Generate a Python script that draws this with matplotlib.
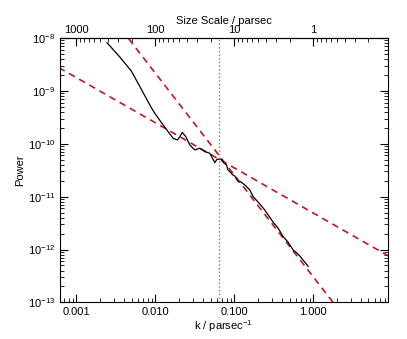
import numpy as np
import matplotlib
matplotlib.use("Agg")
import matplotlib.pyplot as plt
from matplotlib.ticker import LogLocator, FixedLocator, FixedFormatter, NullFormatter

plt.rcParams['font.family'] = ['Liberation Sans', 'DejaVu Sans']
plt.rcParams['font.size'] = 8
plt.rcParams['mathtext.fontset'] = 'custom'
plt.rcParams['mathtext.rm'] = 'Liberation Sans'

# power spectrum
k = [0.00244, 0.00354, 0.00498, 0.00667, 0.00893, 0.00983, 0.01253, 0.01676,
     0.01905, 0.0204, 0.0219, 0.0243, 0.0273, 0.0316, 0.0365, 0.0423, 0.0489,
     0.0566, 0.0605, 0.0689, 0.0736, 0.0796, 0.0828, 0.0877, 0.0958, 0.1014,
     0.1117, 0.121, 0.136, 0.157, 0.173, 0.210, 0.237, 0.268, 0.308, 0.359,
     0.415, 0.477, 0.556, 0.638, 0.711, 0.861]
power = [8.15e-9, 4.38e-9, 2.35e-9, 1.06e-9, 4.75e-10, 3.78e-10, 2.27e-10, 1.27e-10,
         1.18e-10, 1.35e-10, 1.64e-10, 1.36e-10, 9.5e-11, 7.63e-11, 8.22e-11, 7.1e-11, 6.6e-11,
         4.4e-11, 5.1e-11, 5.1e-11, 4.33e-11, 3.97e-11, 3.2e-11, 2.97e-11, 2.57e-11, 2.45e-11,
         1.92e-11, 1.9e-11, 1.66e-11, 1.34e-11, 1.0e-11, 7.28e-12, 5.85e-12, 4.51e-12, 3.33e-12, 2.53e-12,
         1.75e-12, 1.39e-12, 9.8e-13, 8.26e-13, 6.85e-13, 4.8e-13]

# power-law fits (end points)
fit_shallow_k = [0.0006, 9.0]
fit_shallow_p = [2.75e-9, 7.5e-13]
fit_steep_k = [0.002, 9.0]
fit_steep_p = [4.8e-8, 4.4e-15]

k_break = 0.064

xticks = [0.001, 0.01, 0.1, 1.0]
xticklabels = ["0.001", "0.010", "0.100", "1.000"]
top_ticks = [1000, 100, 10, 1]
top_labels = ["1000", "100", "10", "1"]

fig = plt.figure(figsize=(4.07, 3.39), dpi=100)
ax = fig.add_axes([0.1474, 0.108, 0.8056, 0.780])

ax.plot(fit_shallow_k, fit_shallow_p, color='#c0181c', ls=(0, (4, 3)), lw=1.2)
ax.plot(fit_steep_k, fit_steep_p, color='#c0181c', ls=(0, (4, 3)), lw=1.2)
ax.plot(k, power, color='black', lw=0.9)
ax.axvline(k_break, color='gray', ls=':', lw=1)

ax.set_xscale('log')
ax.set_yscale('log')
ax.set_xlim(0.00062, 8.8)
ax.set_ylim(1e-13, 1e-8)

ax.xaxis.set_major_locator(FixedLocator(xticks))
ax.xaxis.set_major_formatter(FixedFormatter(xticklabels))
ax.xaxis.set_minor_locator(LogLocator(base=10, subs=np.arange(2, 10)))
ax.xaxis.set_minor_formatter(NullFormatter())
ax.yaxis.set_major_locator(LogLocator(base=10, numticks=10))
ax.yaxis.set_minor_locator(LogLocator(base=10, subs=np.arange(2, 10), numticks=10))
ax.xaxis.get_offset_text().set_visible(False)

ax.tick_params(which='both', direction='in', right=True, top=False)
ax.tick_params(which='major', length=6, width=0.8)
ax.tick_params(which='minor', length=3, width=0.6)

ax.set_xlabel('k / parsec$^{-1}$', labelpad=1)
ax.set_ylabel('Power', labelpad=2)

top = ax.secondary_xaxis('top', functions=(lambda x: 1.0 / x, lambda x: 1.0 / x))
top.xaxis.set_major_locator(FixedLocator(top_ticks))
top.xaxis.set_major_formatter(FixedFormatter(top_labels))
top.xaxis.set_minor_locator(LogLocator(base=10, subs=np.arange(2, 10)))
top.xaxis.set_minor_formatter(NullFormatter())
top.tick_params(which='both', direction='in')
top.tick_params(which='major', length=6, width=0.8, pad=2)
top.tick_params(which='minor', length=3, width=0.6)
top.set_xlabel('Size Scale / parsec', labelpad=1)

fig.savefig('out.png', dpi=100)
